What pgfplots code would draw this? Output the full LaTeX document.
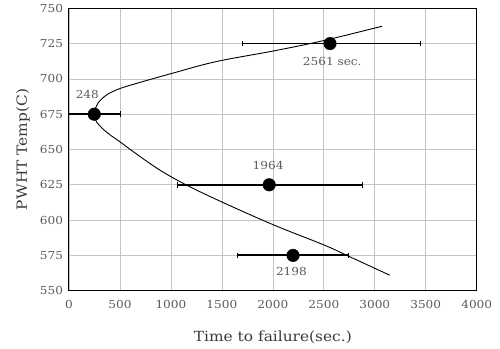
\documentclass[border=0pt]{standalone}
\usepackage{pgfplots}
\pgfplotsset{compat=1.18}
\usepackage{fontspec}
\setmainfont{DejaVu Serif}[FakeStretch=1.1]
\definecolor{tickgray}{HTML}{5A5A5A}
\definecolor{labgray}{HTML}{3A3A3A}
\definecolor{gridgray}{HTML}{C4C4C4}
\begin{document}
\begin{tikzpicture}
\begin{axis}[
  width=407.7pt, height=282.4pt, scale only axis,
  xmin=0, xmax=4000, ymin=550, ymax=750,
  xtick distance=500, ytick distance=25,
  grid=major,
  grid style={gridgray, line width=0.7pt},
  axis line style={black, line width=1pt},
  major tick length=0pt,
  /pgf/number format/assume math mode=true,
  /pgf/number format/1000 sep={},
  tick label style={font=\fontsize{11}{13}\selectfont, text=tickgray},
  xticklabel style={yshift=-6pt},
  yticklabel style={xshift=-2.5pt},
  xlabel={Time to failure(sec.)},
  ylabel={PWHT Temp(C)},
  label style={font=\fontsize{14}{16}\selectfont, text=labgray},
  x label style={at={(axis description cs:0.5,-0.164)}, anchor=center},
  y label style={at={(axis description cs:-0.113,0.5)}, anchor=center},
]
\coordinate (bl) at (rel axis cs:0,0);
\coordinate (tr) at (rel axis cs:1,1);
\addplot[black, line width=0.9pt, smooth, tension=0.6, no marks] coordinates {
(3071,737.3) (2508,727.3) (2007,719.8) (1441,712.2) (1005,703.8) (720,698) (501,693.2) (376,689) (327,686.1) (290,683.5) (271,681) (258,679) (251,677) (248,675.5)
(251,673.5) (258,671.5) (270,669.5) (327,664.9) (410,660) (501,655.4) (655,647.2) (894,635.3) (1156,624.7) (1510,612.5) (2014,596.4) (2508,582.2) (2744,574.4) (3146,561)
};
\addplot[black, only marks, mark=*, mark size=6.3pt,
  error bars/.cd, x dir=both, x explicit,
  error bar style={line width=1.8pt, black},
  error mark options={rotate=90, mark size=2.8pt, line width=1pt, black}]
coordinates {
(248,675) += (253,0) -= (270,0)
(2561,725) += (887,0) -= (861,0)
(1964,625) += (917,0) -= (896,0)
(2198,575) += (549,0) -= (545,0)
};
\begin{scope}[every node/.style={font=\fontsize{11}{13}\selectfont, text=tickgray}]
\node at (axis cs:180,689.3) {248};
\node at (axis cs:2583,712.5) {2561 sec.};
\node at (axis cs:1953,638.5) {1964};
\node at (axis cs:2182,563.3) {2198};
\end{scope}
\end{axis}
\pgfresetboundingbox
\path ([shift={(-69pt,-58.3pt)}]bl) rectangle ([shift={(23.3pt,8.3pt)}]tr);
\end{tikzpicture}
\end{document}
